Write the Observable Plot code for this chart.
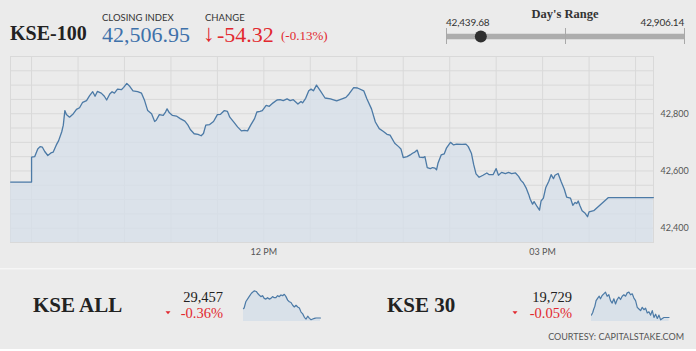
<!DOCTYPE html>
<html><head><meta charset="utf-8">
<script src="https://cdn.jsdelivr.net/npm/d3@7"></script>
<script src="https://cdn.jsdelivr.net/npm/@observablehq/plot@0.6"></script>
<style>
html,body{margin:0;padding:0;background:#ebebeb;}
#root{position:relative;width:696px;height:351px;overflow:hidden;background:#ebebeb;}
#root > * {position:absolute;}
#root svg{overflow:visible;}
</style></head><body><div id="root"></div>
<script>
// ---------------- DATA ----------------
const indexName = "KSE-100";
const closingIndex = 42506.95;
const change = -54.32;
const changePct = "(-0.13%)";
const dayLow = 42439.68;
const dayHigh = 42906.14;

// minutes after 09:30 (negative = pre-open), KSE-100 intraday values
const mainMinutes = [-13.5,0,0,2,4,5.5,7,8.5,10.5,12.5,14,16,17.5,19.5,20.5,21.5,22.5,24.5,27,29,31,33,35.5,37.5,39.5,41,42.5,45,47,48.5,50.5,52,53.5,55.5,58,59.5,61.5,63.5,65.5,68.5,71,73,75,77.5,79.5,
80.5,82.5,85,86.5,87.5,89,91,93.5,96,99,101,102.5,105,107.5,109.5,111,112.5,115,117.5,120,122,124.5,126.5,128,131,133,135.5,137.5,139.5,141.5,144,145.5,147.5,149,151.5,153.5,156,158.5,160.5,
162.5,165,167,169,172,174,175,177,179,180.5,182,184,186.5,189.5,193,197,200.5,203,205,208,210.5,214.5,216.5,219.5,222,224.5,227,229.5,231.5,234.5,237,238.5,
240,242.5,244.5,246,247.5,249,250.5,253,254,255.5,257.5,259,260.5,261.5,262.5,264.5,266.5,268,270.5,272.5,274.5,278,280.5,282,284,285.5,287,289,291.5,294,295.5,298,300,301.5,303.5,306,308,310,312.5,314.5,316,317.5,319.5,321,
322,323.5,324.5,326.5,328,329,330.5,332,334,335.5,337,338,340,342,344,345.5,348,349.5,351,352,353,354,355.5,357.5,359,360,363,372.5,401.5];
const mainValues = [42561,42561,42648,42650,42677,42685,42683,42668,42654,42663,42666,42691,42706,42737,42760,42811,42797,42788,42800,42815,42821,42840,42846,42863,42877,42861,42878,42872,42861,42848,42869,42877,42872,42886,42884,42892,42906,42895,42880,42877,42872,42846,42811,42800,42773,
42777,42797,42794,42806,42817,42803,42794,42792,42783,42774,42760,42745,42730,42728,42723,42731,42760,42762,42773,42797,42798,42811,42808,42788,42768,42754,42740,42742,42740,42760,42783,42806,42808,42811,42829,42826,42838,42848,42849,
42846,42852,42846,42849,42834,42843,42838,42854,42880,42886,42880,42900,42880,42855,42852,42845,42852,42857,42869,42891,42890,42880,42852,42817,42771,42748,42739,42728,42725,42697,42685,42677,
42647,42650,42656,42662,42666,42673,42648,42647,42650,42612,42608,42612,42610,42604,42628,42656,42660,42681,42700,42691,42694,42693,42694,42685,42662,42622,42590,42578,42585,42593,42587,42587,42608,42585,42595,42591,42595,42591,42593,42581,42567,42559,42539,42518,
42501,42484,42493,42475,42463,42495,42505,42541,42564,42587,42573,42585,42591,42562,42536,42509,42505,42480,42490,42486,42495,42480,42461,42452,42440,42457,42461,42507,42507];

const xDomainMinutes = [-13.6, 401.6];
const yDomain = [42350, 43000];
const yTickValues = [42400, 42600, 42800];
const xTickMinutes = [150, 330];
const xTickLabels = ["12 PM", "03 PM"];

// sub indices
const subNames = ["KSE ALL", "KSE 30"];
const subValues = ["29,457", "19,729"];
const subChanges = ["-0.36%", "-0.05%"];
const kseAllMinutes = [0,3,11,27,38,51,61,67,75,83,91,99,107,115,123,131,139,147,155,163,171,179,187,195,203,211,219,227,235,243,251,259,267,275,283,291,299,307,315,323,331,339,347,368];
const kseAllValues = [29563,29571,29642,29701,29740,29767,29760,29740,29720,29701,29712,29681,29673,29689,29673,29681,29701,29689,29689,29712,29701,29720,29712,29728,29701,29661,29642,29634,29602,29583,29602,29583,29571,29524,29504,29465,29445,29477,29453,29437,29445,29453,29457,29457];
const kse30Minutes = [0,6,11,16,22,30,37,43,51,59,67,75,83,91,99,107,115,123,131,139,147,155,163,171,179,187,195,203,211,219,227,235,243,251,259,267,275,283,291,299,307,315,323,331,339,347,371];
const kse30Values = [19739,19750,19765,19776,19800,19811,19819,19808,19822,19829,19836,19819,19825,19800,19790,19808,19786,19805,19815,19805,19819,19825,19819,19833,19836,19825,19829,19811,19800,19772,19765,19758,19772,19762,19768,19748,19753,19739,19758,19729,19743,19725,19739,19719,19725,19729,19729];
const kseAllDomain = [29417, 29771];
const kse30Domain = [19712, 19843];
const credit = "COURTESY: CAPITALSTAKE.COM";

// ---------------- DRAW ----------------
const root = document.getElementById("root");
const t0 = Date.UTC(2019, 0, 2, 9, 30);
const toDate = m => new Date(t0 + m * 60000);
const main = mainMinutes.map((m, i) => ({t: toDate(m), v: mainValues[i]}));
const gridTimes = d3.range(0, 391, 30).map(toDate);
const gridVals = d3.range(yDomain[0], yDomain[1] + 1, 50);
const gridColor = "#d9d9d9";
const sans = "Lato, 'Open Sans', sans-serif";
const serif = "'Liberation Serif', 'DejaVu Serif', serif";
const red = "#e2282f";
const blue = "#3e71aa";

// text overlay
const NS = "http://www.w3.org/2000/svg";
const over = document.createElementNS(NS, "svg");
over.setAttribute("width", 696); over.setAttribute("height", 351);
over.style.left = "0px"; over.style.top = "0px";
root.appendChild(over);
function txt(x, y, s, o = {}) {
  const e = document.createElementNS(NS, "text");
  e.setAttribute("x", x); e.setAttribute("y", y);
  e.setAttribute("font-family", o.family || serif);
  e.setAttribute("font-size", o.size || 12);
  if (o.weight) e.setAttribute("font-weight", o.weight);
  e.setAttribute("fill", o.fill || "#222");
  if (o.anchor) e.setAttribute("text-anchor", o.anchor);
  if (o.ls) e.setAttribute("letter-spacing", o.ls);
  e.textContent = s;
  over.appendChild(e);
}
function tri(cx, cy) {
  const p = document.createElementNS(NS, "polygon");
  p.setAttribute("points", `${cx-2.5},${cy-1.5} ${cx+2.5},${cy-1.5} ${cx},${cy+1.5}`);
  p.setAttribute("fill", red);
  over.appendChild(p);
}
// separator
const sep = document.createElementNS(NS, "rect");
sep.setAttribute("x", 0); sep.setAttribute("y", 268); sep.setAttribute("width", 696); sep.setAttribute("height", 1.5);
sep.setAttribute("fill", "#f6f6f6");
over.appendChild(sep);
const bot = document.createElementNS(NS, "rect");
bot.setAttribute("x", 0); bot.setAttribute("y", 349); bot.setAttribute("width", 696); bot.setAttribute("height", 2);
bot.setAttribute("fill", "#ffffff");
over.appendChild(bot);

txt(10, 40, indexName, {size: 20, weight: "bold", fill: "#222"});
txt(102, 20.5, "CLOSING INDEX", {family: sans, size: 9.5, fill: "#333"});
txt(102, 41.5, d3.format(",.2f")(closingIndex), {size: 22, fill: blue});
txt(205, 20.5, "CHANGE", {family: sans, size: 9.5, fill: "#333"});
txt(203, 41, "\u2193", {size: 24, fill: red, weight: "bold"});
txt(217, 41.5, change.toFixed(2), {size: 22, fill: red});
txt(281, 40, changePct, {size: 13, fill: red});
txt(565, 17.5, "Day's Range", {size: 12.5, weight: "bold", fill: "#333", anchor: "middle"});
txt(446, 26, d3.format(",.2f")(dayLow), {family: sans, size: 10, fill: "#333", ls: -0.2});
txt(684, 26, d3.format(",.2f")(dayHigh), {family: sans, size: 10, fill: "#333", anchor: "end", ls: -0.2});

txt(33, 312, subNames[0], {size: 21, weight: "bold", fill: "#222"});
txt(223, 302, subValues[0], {size: 14.5, fill: "#222", anchor: "end"});
txt(223, 317.5, subChanges[0], {size: 14.5, fill: red, anchor: "end"});
tri(168, 312.7);
txt(387, 312, subNames[1], {size: 21, weight: "bold", fill: "#222"});
txt(572, 302, subValues[1], {size: 14.5, fill: "#222", anchor: "end"});
txt(572, 317.5, subChanges[1], {size: 14.5, fill: red, anchor: "end"});
tri(515, 312.7);
txt(684, 340, credit, {family: sans, size: 9, fill: "#555", anchor: "end"});

// day's range bar
const rangePlot = Plot.plot({
  width: 260, height: 16, marginLeft: 10, marginRight: 12, marginTop: 0, marginBottom: 0,
  x: {domain: [dayLow, dayHigh], axis: null},
  y: {domain: [0, 1], axis: null},
  style: {background: "transparent", overflow: "visible"},
  marks: [
    Plot.ruleY([0.5], {x1: dayLow, x2: dayHigh, stroke: "#adadad", strokeWidth: 5.5}),
    Plot.ruleX([dayLow, (dayLow + dayHigh) / 2, dayHigh], {y1: 0, y2: 1, stroke: "#a8a8a8", strokeWidth: 1}),
    Plot.dot([closingIndex], {x: d => d, y: () => 0.5, r: 6, fill: "#2f2f2f", stroke: "none"})
  ]
});
rangePlot.style.left = "436px"; rangePlot.style.top = "28px";
root.appendChild(rangePlot);

// main chart
const chart = Plot.plot({
  width: 696, height: 215,
  marginLeft: 10, marginRight: 43, marginTop: 6, marginBottom: 23,
  style: {background: "transparent", fontFamily: sans, fontSize: "9px", color: "#555", overflow: "visible"},
  x: {type: "utc", domain: xDomainMinutes.map(toDate), ticks: xTickMinutes.map(toDate),
      tickFormat: d => xTickLabels[xTickMinutes.indexOf((d - t0) / 60000)], tickSize: 0, tickPadding: 6, label: null},
  y: {domain: yDomain, axis: "right", ticks: yTickValues, tickFormat: d3.format(","), tickSize: 0, tickPadding: 7, label: null},
  marks: [
    Plot.ruleY(gridVals, {stroke: gridColor, strokeWidth: 1}),
    Plot.ruleX(gridTimes, {stroke: gridColor, strokeWidth: 1}),
    Plot.frame({stroke: gridColor}),
    Plot.area(main, {x1: "t", y1: () => yDomain[0], y2: "v", fill: "#d6dfe9", fillOpacity: 0.75}),
    Plot.line(main, {x: "t", y: "v", stroke: "#4c7aa6", strokeWidth: 1.3})
  ]
});
chart.style.left = "0px"; chart.style.top = "50px";
root.appendChild(chart);

// sparklines
function spark(mins, vals, dom, left, width) {
  const d = mins.map((m, i) => ({m, v: vals[i]}));
  const p = Plot.plot({
    width, height: 31, margin: 0,
    x: {domain: [0, mins[mins.length - 1]], axis: null},
    y: {domain: dom, axis: null},
    style: {background: "transparent", overflow: "visible"},
    marks: [
      Plot.area(d, {x1: "m", y1: () => dom[0], y2: "v", fill: "#d6dfe9", fillOpacity: 0.85}),
      Plot.line(d, {x: "m", y: "v", stroke: "#4c7aa6", strokeWidth: 1.2})
    ]
  });
  p.style.left = left + "px"; p.style.top = "290px";
  root.appendChild(p);
}
spark(kseAllMinutes, kseAllValues, kseAllDomain, 242.5, 77);
spark(kse30Minutes, kse30Values, kse30Domain, 591, 77.5);
</script></body></html>
